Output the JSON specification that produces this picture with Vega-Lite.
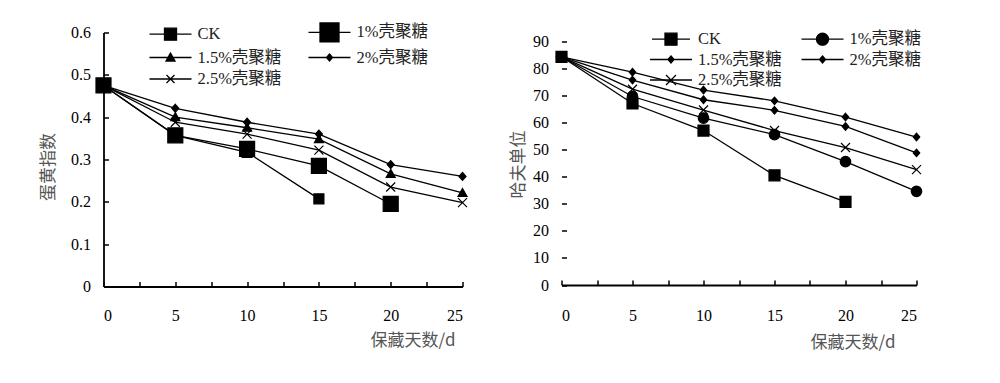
{
  "$schema": "https://vega.github.io/schema/vega-lite/v6.json",
  "background": "white",
  "padding": {"left": 39.5, "top": 20.5, "right": 0, "bottom": 20},
  "datasets": {
    "left": [
      {"series": "2%壳聚糖", "day": 0, "value": 0.475},
      {"series": "2%壳聚糖", "day": 5, "value": 0.421},
      {"series": "2%壳聚糖", "day": 10, "value": 0.388},
      {"series": "2%壳聚糖", "day": 15, "value": 0.36},
      {"series": "2%壳聚糖", "day": 20, "value": 0.288},
      {"series": "2%壳聚糖", "day": 25, "value": 0.26},
      {"series": "1.5%壳聚糖", "day": 0, "value": 0.475},
      {"series": "1.5%壳聚糖", "day": 5, "value": 0.4},
      {"series": "1.5%壳聚糖", "day": 10, "value": 0.375},
      {"series": "1.5%壳聚糖", "day": 15, "value": 0.348},
      {"series": "1.5%壳聚糖", "day": 20, "value": 0.266},
      {"series": "1.5%壳聚糖", "day": 25, "value": 0.221},
      {"series": "2.5%壳聚糖", "day": 0, "value": 0.475},
      {"series": "2.5%壳聚糖", "day": 5, "value": 0.388},
      {"series": "2.5%壳聚糖", "day": 10, "value": 0.36},
      {"series": "2.5%壳聚糖", "day": 15, "value": 0.322},
      {"series": "2.5%壳聚糖", "day": 20, "value": 0.235},
      {"series": "2.5%壳聚糖", "day": 25, "value": 0.198},
      {"series": "CK", "day": 0, "value": 0.475},
      {"series": "CK", "day": 5, "value": 0.357},
      {"series": "CK", "day": 10, "value": 0.317},
      {"series": "CK", "day": 15, "value": 0.207},
      {"series": "1%壳聚糖", "day": 0, "value": 0.475},
      {"series": "1%壳聚糖", "day": 5, "value": 0.357},
      {"series": "1%壳聚糖", "day": 10, "value": 0.325},
      {"series": "1%壳聚糖", "day": 15, "value": 0.285},
      {"series": "1%壳聚糖", "day": 20, "value": 0.195}
    ],
    "right": [
      {"series": "2%壳聚糖", "day": 0, "value": 84.5},
      {"series": "2%壳聚糖", "day": 5, "value": 78.8},
      {"series": "2%壳聚糖", "day": 10, "value": 72.2},
      {"series": "2%壳聚糖", "day": 15, "value": 68.2},
      {"series": "2%壳聚糖", "day": 20, "value": 62.2},
      {"series": "2%壳聚糖", "day": 25, "value": 54.8},
      {"series": "1.5%壳聚糖", "day": 0, "value": 84.5},
      {"series": "1.5%壳聚糖", "day": 5, "value": 75.9},
      {"series": "1.5%壳聚糖", "day": 10, "value": 68.6},
      {"series": "1.5%壳聚糖", "day": 15, "value": 64.7},
      {"series": "1.5%壳聚糖", "day": 20, "value": 58.7},
      {"series": "1.5%壳聚糖", "day": 25, "value": 48.9},
      {"series": "2.5%壳聚糖", "day": 0, "value": 84.5},
      {"series": "2.5%壳聚糖", "day": 5, "value": 72.5},
      {"series": "2.5%壳聚糖", "day": 10, "value": 64.8},
      {"series": "2.5%壳聚糖", "day": 15, "value": 57.2},
      {"series": "2.5%壳聚糖", "day": 20, "value": 50.9},
      {"series": "2.5%壳聚糖", "day": 25, "value": 42.7},
      {"series": "1%壳聚糖", "day": 0, "value": 84.5},
      {"series": "1%壳聚糖", "day": 5, "value": 69.8},
      {"series": "1%壳聚糖", "day": 10, "value": 61.8},
      {"series": "1%壳聚糖", "day": 15, "value": 55.7},
      {"series": "1%壳聚糖", "day": 20, "value": 45.7},
      {"series": "1%壳聚糖", "day": 25, "value": 34.7},
      {"series": "CK", "day": 0, "value": 84.5},
      {"series": "CK", "day": 5, "value": 67.2},
      {"series": "CK", "day": 10, "value": 57.2},
      {"series": "CK", "day": 15, "value": 40.6},
      {"series": "CK", "day": 20, "value": 30.8}
    ]
  },
  "config": {
    "view": {"stroke": null},
    "axis": {
      "grid": false,
      "domainColor": "black",
      "domainWidth": 1.8,
      "tickColor": "black",
      "tickWidth": 1.5,
      "tickSize": -5,
      "labelFont": "Liberation Serif",
      "labelFontSize": 16,
      "labelColor": "black",
      "titleFont": "Noto Sans CJK SC",
      "titleFontSize": 17,
      "titleFontWeight": "normal",
      "titleColor": "#555555"
    },
    "legend": {
      "labelFont": "Liberation Serif, Noto Sans CJK SC",
      "labelFontSize": 16.5,
      "labelColor": "#222222",
      "padding": 0
    }
  },
  "spacing": 26,
  "hconcat": [
    {
      "width": 359,
      "height": 254,
      "data": {"name": "left"},
      "encoding": {
        "x": {"field": "day", "type": "quantitative", "scale": {"domain": [0, 25], "nice": false},
          "axis": {"values": [0, 2.5, 5, 7.5, 10, 12.5, 15, 17.5, 20, 22.5, 25], "labelExpr": "datum.value % 5 === 0 ? datum.label : ''", "labelPadding": 26, "title": "保藏天数/d", "titleX": 309, "titleAlign": "center", "titlePadding": 8.5}},
        "y": {"field": "value", "type": "quantitative", "scale": {"domain": [0, 0.6], "nice": false},
          "axis": {"values": [0, 0.1, 0.2, 0.3, 0.4, 0.5, 0.6], "format": "~f", "labelPadding": 18, "title": "蛋黄指数", "titlePadding": 13, "titleY": 134, "titleAlign": "center"}}
      },
      "layer": [
        {"mark": {"type": "line", "color": "black", "strokeWidth": 1.3}, "encoding": {"detail": {"field": "series"}}},
        {"mark": {"type": "point", "filled": true, "fill": "black", "stroke": "black", "strokeWidth": 1.2, "opacity": 1, "size": 100},
          "encoding": {"shape": {"field": "series", "legend": null, "scale": {
            "domain": ["CK", "1%壳聚糖", "1.5%壳聚糖", "2%壳聚糖", "2.5%壳聚糖"],
            "range": ["M-1,-1H1V1H-1Z", "M-1.5,-1.5H1.5V1.5H-1.5Z", "M0,-0.9L0.9,0.7H-0.9Z", "M0,-0.8L0.7,0L0,0.8L-0.7,0Z", "M-0.9,-0.9L0.9,0.9M-0.9,0.9L0.9,-0.9"]}}}},
        {"mark": {"type": "point", "filled": true, "fill": "black", "stroke": "black", "strokeWidth": 1.3, "opacity": 0, "size": 400},
          "encoding": {"shape": {"field": "series", "scale": {
            "domain": ["CK", "1%壳聚糖", "1.5%壳聚糖", "2%壳聚糖", "2.5%壳聚糖"],
            "range": ["M-2.1,0H2.1M-0.6,-0.6H0.6V0.6H-0.6Z", "M-2.1,0H2.1M-0.95,-0.95H0.95V0.95H-0.95Z", "M-2.1,0H2.1M0,-0.45L0.45,0.35H-0.45Z", "M-2.1,0H2.1M0,-0.35L0.3,0L0,0.35L-0.3,0Z", "M-2.1,0H2.1M-0.4,-0.4L0.4,0.4M-0.4,0.4L0.4,-0.4"]},
            "legend": {"orient": "none", "direction": "horizontal", "legendX": 56, "legendY": -11.5, "columns": 2, "title": null, "symbolSize": 400, "symbolOpacity": 1, "symbolFillColor": "black", "symbolStrokeColor": "black", "symbolStrokeWidth": 1.3, "labelOffset": 16, "columnPadding": 24, "rowPadding": 1.5,
              "encoding": {"symbols": {"stroke": {"value": "black"}, "strokeWidth": {"value": 1.3}, "fill": {"value": "black"}, "opacity": {"value": 1}}}}}}}
      ],
      "resolve": {"scale": {"shape": "independent"}}
    },
    {
      "width": 355,
      "height": 252.5,
      "data": {"name": "right"},
      "encoding": {
        "x": {"field": "day", "type": "quantitative", "scale": {"domain": [0, 25], "nice": false},
          "axis": {"values": [0, 2.5, 5, 7.5, 10, 12.5, 15, 17.5, 20, 22.5, 25], "labelExpr": "datum.value % 5 === 0 ? datum.label : ''", "labelPadding": 27, "title": "保藏天数/d", "titleX": 291, "titleAlign": "center", "titlePadding": 11}},
        "y": {"field": "value", "type": "quantitative", "scale": {"domain": [0, 93.5], "nice": false},
          "axis": {"values": [0, 10, 20, 30, 40, 50, 60, 70, 80, 90], "domain": false, "labelPadding": 18, "title": "哈夫单位", "titlePadding": 5, "titleY": 131.5, "titleAlign": "center"}}
      },
      "layer": [
        {"data": {"values": [{"from": 0, "to": 90}]}, "mark": {"type": "rule", "color": "black", "strokeWidth": 1.8},
          "encoding": {"x": {"datum": 0}, "y": {"field": "from", "type": "quantitative"}, "y2": {"field": "to"}}},
        {"mark": {"type": "line", "color": "black", "strokeWidth": 1.3}, "encoding": {"detail": {"field": "series"}}},
        {"mark": {"type": "point", "filled": true, "fill": "black", "stroke": "black", "strokeWidth": 1.2, "opacity": 1, "size": 100},
          "encoding": {"shape": {"field": "series", "legend": null, "scale": {
            "domain": ["CK", "1%壳聚糖", "1.5%壳聚糖", "2%壳聚糖", "2.5%壳聚糖"],
            "range": ["M-1.1,-1.1H1.1V1.1H-1.1Z", "M1.05,0A1.05,1.05,0,1,1,-1.05,0A1.05,1.05,0,1,1,1.05,0Z", "M0,-0.75L0.65,0L0,0.75L-0.65,0Z", "M0,-0.75L0.65,0L0,0.75L-0.65,0Z", "M-0.9,-0.9L0.9,0.9M-0.9,0.9L0.9,-0.9"]}}}},
        {"mark": {"type": "point", "filled": true, "fill": "black", "stroke": "black", "strokeWidth": 1.3, "opacity": 0, "size": 400},
          "encoding": {"shape": {"field": "series", "scale": {
            "domain": ["CK", "1%壳聚糖", "1.5%壳聚糖", "2%壳聚糖", "2.5%壳聚糖"],
            "range": ["M-1.9,0H1.9M-0.6,-0.6H0.6V0.6H-0.6Z", "M-2.1,0H2.1M0.6,0A0.6,0.6,0,1,1,-0.6,0A0.6,0.6,0,1,1,0.6,0Z", "M-2.1,0H2.1M0,-0.35L0.3,0L0,0.35L-0.3,0Z", "M-2.1,0H2.1M0,-0.35L0.3,0L0,0.35L-0.3,0Z", "M-2.1,0H2.1M-0.5,-0.5L0.5,0.5M-0.5,0.5L0.5,-0.5"]},
            "legend": {"orient": "none", "direction": "horizontal", "legendX": 98.5, "legendY": -4.5, "columns": 2, "title": null, "symbolSize": 400, "symbolOpacity": 1, "symbolFillColor": "black", "symbolStrokeColor": "black", "symbolStrokeWidth": 1.3, "labelOffset": 16, "columnPadding": 16.5, "rowPadding": 0.5,
              "encoding": {"symbols": {"stroke": {"value": "black"}, "strokeWidth": {"value": 1.3}, "fill": {"value": "black"}, "opacity": {"value": 1}}}}}}}
      ],
      "resolve": {"scale": {"shape": "independent"}}
    }
  ]
}
